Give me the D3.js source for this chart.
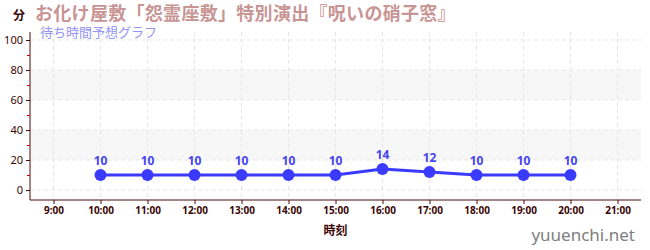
<!DOCTYPE html>
<html><head><meta charset="utf-8">
<script src="https://cdn.jsdelivr.net/npm/d3@7"></script>
<style>body{margin:0;background:#fff;}svg{display:block;font-family:"Noto Sans CJK JP","Noto Sans",sans-serif;}</style>
</head><body>
<svg id="c" width="650" height="250"></svg>
<script>
const hours = [10,11,12,13,14,15,16,17,18,19,20];
const waits = [10,10,10,10,10,10,14,12,10,10,10];
const xTicks = [9,10,11,12,13,14,15,16,17,18,19,20,21];
const yTicks = [0,20,40,60,80,100];
const yMinor = [10,30,50,70,90];
const bands = [[20,40],[60,80]];
const title = "お化け屋敷「怨霊座敷」特別演出『呪いの硝子窓』";
const subtitle = "待ち時間予想グラフ";
const yUnit = "分";
const xLabel = "時刻";
const watermark = "yuuenchi.net";

const svg = d3.select("#c");
const L=30,R=641,T=32,B=200;
const x = d3.scaleLinear().domain([8.5,21.5]).range([L,R]);
const y = d3.scaleLinear().domain([-6.67,105]).range([B,T+0.5]);
const axisCol="#4d0a0a";

svg.selectAll("rect.band").data(bands).enter().append("rect")
  .attr("x",L).attr("width",R-L).attr("y",d=>y(d[1])).attr("height",d=>y(d[0])-y(d[1]))
  .attr("fill","#f7f7f7");

svg.selectAll("line.hg").data(yTicks).enter().append("line")
  .attr("x1",L).attr("x2",R).attr("y1",d=>y(d)).attr("y2",d=>y(d))
  .attr("stroke","#e6e6e6").attr("stroke-dasharray","4,3");
svg.selectAll("line.vg").data(xTicks).enter().append("line")
  .attr("y1",T).attr("y2",B).attr("x1",d=>x(d)).attr("x2",d=>x(d))
  .attr("stroke","#e6e6e6").attr("stroke-dasharray","4,3");

const yAxis = svg.append("g").attr("transform",`translate(${L},0)`)
  .call(d3.axisLeft(y).tickValues(yTicks).tickSize(4).tickPadding(3));
yAxis.select(".domain").attr("stroke",axisCol).attr("d",`M0,${T}V${B}`);
yAxis.selectAll("line").attr("stroke",axisCol);
yAxis.selectAll("text").attr("fill","#3a0505").attr("font-size",11).attr("font-family","Noto Sans");
svg.append("g").attr("transform",`translate(${L},0)`)
  .call(d3.axisLeft(y).tickValues(yMinor).tickSize(3).tickFormat(""))
  .call(g=>g.select(".domain").remove())
  .selectAll("line").attr("stroke","#d00000");

const xAxis = svg.append("g").attr("transform",`translate(0,${B})`)
  .call(d3.axisBottom(x).tickValues(xTicks).tickSize(4).tickPadding(3).tickFormat(d=>d+":00"));
xAxis.select(".domain").attr("stroke",axisCol).attr("d",`M${L},0H${R}`);
xAxis.selectAll("line").attr("stroke",axisCol);
xAxis.selectAll("text").attr("fill","#3a0505").attr("font-size",10).attr("font-weight","bold").attr("font-family","Noto Sans");

const line = d3.line().x((d,i)=>x(hours[i])).y(d=>y(d));
svg.append("path").datum(waits).attr("d",line).attr("fill","none")
  .attr("stroke","#3b3bff").attr("stroke-width",3);
svg.selectAll("circle.pt").data(waits).enter().append("circle")
  .attr("cx",(d,i)=>x(hours[i])).attr("cy",d=>y(d)).attr("r",6).attr("fill","#3b3bff");
svg.selectAll("text.lbl").data(waits).enter().append("text")
  .attr("x",(d,i)=>x(hours[i])).attr("y",d=>y(d)-10).attr("text-anchor","middle")
  .attr("fill","#4545f0").attr("font-size",12).attr("font-weight","bold").attr("font-family","Noto Sans")
  .text(d=>d);

svg.append("text").attr("x",13).attr("y",20).attr("font-size",12).attr("font-weight","bold").attr("fill","#3a0505").text(yUnit);
svg.append("text").attr("x",35).attr("y",20).attr("font-size",18).attr("font-weight","bold").attr("fill","#c89494").attr("letter-spacing",0.3).text(title);
svg.append("text").attr("x",40).attr("y",37).attr("font-size",13).attr("fill","#9494f5").text(subtitle);
svg.append("text").attr("x",(L+R)/2).attr("y",235).attr("text-anchor","middle").attr("font-size",12).attr("font-weight","bold").attr("fill","#3a0505").text(xLabel);
svg.append("text").attr("x",635).attr("y",241).attr("text-anchor","end").attr("font-size",17).attr("fill","#808080").attr("font-family","Noto Sans").text(watermark);
</script>
</body></html>
